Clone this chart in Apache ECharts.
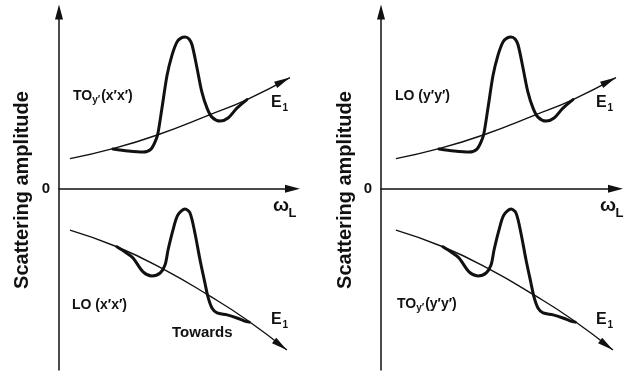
<!DOCTYPE html>
<html><head><meta charset="utf-8">
<script src="https://cdn.jsdelivr.net/npm/echarts@6/dist/echarts.min.js"></script>
<style>html,body{margin:0;padding:0;background:#fff}#c{width:626px;height:374px}</style>
</head><body><div id="c"></div>
<script>
// Background E1 contribution (thin line) and resonance (thick line), upper half
const e1Rising = [[0.47,1.66],[2.31,2.21],[4.24,2.98],[6.47,4.09],[8.05,4.92],[9.89,6.13]];
const peakRising = [[2.31,2.19],[2.96,2.08],[3.60,2.02],[3.94,2.19],[4.15,2.69],[4.24,3.07],[4.41,4.45],
  [4.63,6.27],[4.84,7.37],[5.05,8.09],[5.22,8.31],[5.40,8.37],[5.57,8.26],[5.70,7.93],[5.91,6.66],
  [6.12,5.33],[6.34,4.45],[6.55,3.95],[6.90,3.73],[7.24,3.90],[7.62,4.45],[8.05,4.92]];
// Lower half
const e1Falling = [[0.47,-2.28],[2.48,-3.20],[4.45,-4.42],[6.38,-5.86],[8.05,-7.24],[9.76,-8.90]];
const peakFalling = [[2.48,-3.20],[2.83,-3.49],[3.17,-3.82],[3.60,-4.59],[3.98,-4.81],[4.33,-4.65],
  [4.54,-4.21],[4.67,-3.38],[4.88,-2.28],[5.09,-1.45],[5.40,-1.12],[5.61,-1.34],[5.82,-2.44],
  [6.04,-3.93],[6.25,-5.20],[6.38,-5.97],[6.55,-6.58],[6.77,-6.85],[7.20,-6.96],[7.62,-7.13],
  [7.95,-7.30],[8.15,-7.36]];

const panelTopLabels = [['TO','y′','(x′x′)'], ['LO (y′y′)']];
const panelBottomLabels = [['LO (x′x′)'], ['TO','y′','(y′y′)']];
const yTitle = 'Scattering amplitude';
const zeroLabel = '0';
const extraLabel = 'Towards';

const FONT = '"Liberation Sans", Arial, sans-serif';
const TIP = 'path://M4,16 L8,32 L0,32 Z M4,0 L4,0';
const AXARROW = 'path://M4,0 L8,15 L0,15 Z';

function thin(pts, xi, rot) {
  return {
    type: 'line', xAxisIndex: xi, yAxisIndex: xi, smooth: 0.5, clip: false, silent: true,
    symbol: 'none', showSymbol: true,
    lineStyle: {color: '#111', width: 1.4},
    itemStyle: {color: '#111', borderWidth: 0},
    data: pts.map((p, i) => i === pts.length - 1
      ? {value: p, symbol: TIP, symbolSize: [7, 32], symbolRotate: rot, itemStyle: {color: '#111', borderWidth: 0}}
      : p)
  };
}
function thick(pts, xi) {
  return {
    type: 'line', xAxisIndex: xi, yAxisIndex: xi, smooth: 0.3, clip: false, silent: true,
    symbol: 'none', lineStyle: {color: '#111', width: 3, join: 'round', cap: 'round'},
    data: pts
  };
}
function axisX(min, max) {
  return {
    type: 'value', min: min, max: max,
    axisLine: {onZero: true, symbol: ['none', AXARROW], symbolSize: [8, 15], lineStyle: {color: '#111', width: 1.5}},
    axisTick: {show: false}, axisLabel: {show: false}, splitLine: {show: false}
  };
}
function axisY() {
  return {
    type: 'value', min: -10, max: 9.75,
    axisLine: {onZero: false, symbol: ['none', AXARROW], symbolSize: [8, 15], lineStyle: {color: '#111', width: 1.5}},
    axisTick: {show: false}, axisLabel: {show: false}, splitLine: {show: false}
  };
}
function txt(x, y, s, size, extra) {
  return {
    type: 'text', x: x, y: y, silent: true,
    style: Object.assign({text: s, font: 'bold ' + size + 'px ' + FONT, fill: '#111', textAlign: 'left', textVerticalAlign: 'middle'}, extra || {})
  };
}
function sub(x, y, parts, size) {
  const els = [];
  if (parts.length === 1) { els.push(txt(x, y, parts[0], size)); return els; }
  const c = document.createElement('canvas').getContext('2d');
  c.font = 'bold ' + size + 'px ' + FONT;
  const w0 = c.measureText(parts[0]).width;
  c.font = 'bold ' + (size - 4) + 'px ' + FONT;
  const w1 = c.measureText(parts[1]).width;
  els.push(txt(x, y, parts[0], size));
  els.push(txt(x + w0, y + 4, parts[1], size - 4));
  els.push(txt(x + w0 + w1 + 1, y, parts[2], size));
  return els;
}

const graphics = [];
[[22, 46], [345, 368]].forEach(([tx, zx]) => {
  graphics.push(Object.assign(txt(tx, 190, yTitle, 20, {textAlign: 'center'}), {rotation: Math.PI / 2}));
  graphics.push(txt(zx, 189, zeroLabel, 15, {textAlign: 'center'}));
});
[271, 596].forEach((ex) => {
  graphics.push(txt(ex, 103, 'E', 16));
  graphics.push(txt(ex + 11.5, 108, '1', 10));
  graphics.push(txt(ex, 320, 'E', 16));
  graphics.push(txt(ex + 11.5, 325, '1', 10));
});
[273, 600].forEach((wx) => {
  graphics.push(txt(wx, 206, 'ω', 19));
  graphics.push(txt(wx + 15.5, 213, 'L', 13));
});
graphics.push(...sub(73, 96, panelTopLabels[0], 14));
graphics.push(...sub(395, 96, panelTopLabels[1], 14));
graphics.push(...sub(72, 305, panelBottomLabels[0], 14));
graphics.push(...sub(397, 304, panelBottomLabels[1], 14));
graphics.push(txt(172, 333, extraLabel, 15));

const chart = echarts.init(document.getElementById('c'), null, {renderer: 'canvas'});
const xa0 = axisX(0, 10); xa0.gridIndex = 0;
const xa1 = axisX(-0.17, 9.87); xa1.gridIndex = 1;
const ya0 = axisY(); ya0.gridIndex = 0;
const ya1 = axisY(); ya1.gridIndex = 1;
chart.setOption({
  animation: false,
  backgroundColor: '#fff',
  grid: [
    {left: 59, top: 12, width: 233.5, height: 358},
    {left: 381, top: 12, width: 234.5, height: 358}
  ],
  xAxis: [xa0, xa1],
  yAxis: [ya0, ya1],
  series: [
    thin(e1Rising, 0, -63.4), thick(peakRising, 0),
    thin(e1Falling, 0, -126.9), thick(peakFalling, 0),
    thin(e1Rising, 1, -63.4), thick(peakRising, 1),
    thin(e1Falling, 1, -126.9), thick(peakFalling, 1)
  ],
  graphic: graphics
});
</script></body></html>
